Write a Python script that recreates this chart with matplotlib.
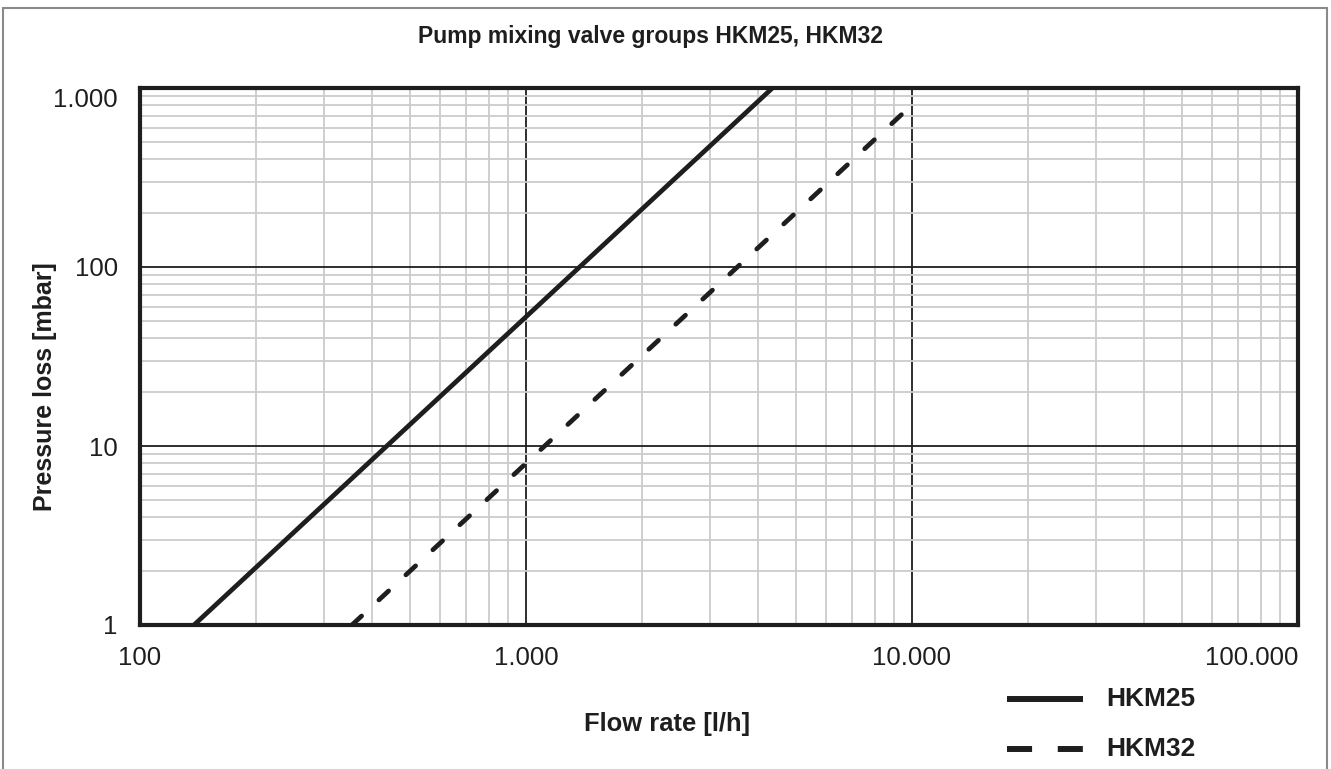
import matplotlib.pyplot as plt
from matplotlib.lines import Line2D
from matplotlib.patches import Rectangle
from matplotlib.ticker import LogLocator, NullFormatter

plt.rcParams['font.family'] = ['Liberation Sans', 'DejaVu Sans']

# values (flow l/h, pressure loss mbar)
hkm25_flow = [138, 4350]
hkm25_dp = [1, 1000]
hkm32_flow = [354, 10200]
hkm32_dp = [1, 838]

x_ticks = [100, 1000, 10000, 100000]
x_labels = ['100', '1.000', '10.000', '100.000']
y_ticks = [1, 10, 100, 1000]
y_labels = ['1', '10', '100', '1.000']
series_names = ['HKM25', 'HKM32']

W, H = 1331, 769
ink = '#1e1e1e'

fig = plt.figure(figsize=(W / 100, H / 100), dpi=100)
ax = fig.add_axes([140 / W, 1 - 625 / H, (1298 - 140) / W, (625 - 88) / H])

ax.plot(hkm25_flow, hkm25_dp, color=ink, lw=3.4, solid_capstyle='butt', zorder=5)
ax.plot(hkm32_flow, hkm32_dp, color=ink, lw=3.4, dashes=(2.8, 5.0),
        dash_capstyle='round', zorder=5)

ax.set_xscale('log')
ax.set_yscale('log')
ax.set_xlim(100, 100000)
ax.set_ylim(1, 1000)

ax.xaxis.set_minor_locator(LogLocator(base=10, subs=range(2, 10)))
ax.yaxis.set_minor_locator(LogLocator(base=10, subs=range(2, 10)))
ax.xaxis.set_minor_formatter(NullFormatter())
ax.yaxis.set_minor_formatter(NullFormatter())
ax.grid(which='minor', color='#cccccc', lw=1.3)
ax.grid(which='major', color=ink, lw=1.3)
ax.set_axisbelow(True)

ax.set_xticks(x_ticks)
ax.set_xticklabels(x_labels)
ax.set_yticks(y_ticks)
ax.set_yticklabels(y_labels)
ax.tick_params(which='both', length=0, labelsize=18.5, colors=ink)
ax.tick_params(axis='x', pad=15)
ax.tick_params(axis='y', pad=16)
ax.get_xticklabels()[-1].set_ha('right')
ax.get_yticklabels()[-1].set_va('top')

for s in ax.spines.values():
    s.set_linewidth(3)
    s.set_color(ink)

fig.text(650 / W, 1 - 36 / H, 'Pump mixing valve groups HKM25, HKM32',
         ha='center', va='center', fontsize=16.5, fontweight='bold', color=ink)
fig.text(45 / W, 1 - 387 / H, 'Pressure loss [mbar]', rotation=90,
         ha='center', va='center', fontsize=18, fontweight='bold', color=ink)
fig.text(667 / W, 1 - 724 / H, 'Flow rate [l/h]',
         ha='center', va='center', fontsize=18.4, fontweight='bold', color=ink)

# legend drawn by hand to match the sample lengths
legend_y = [699, 749]
legend_dash = [None, (4.2, 4.3)]
for name, y, d in zip(series_names, legend_y, legend_dash):
    ln = Line2D([1007 / W, 1083 / W], [1 - y / H, 1 - y / H],
                transform=fig.transFigure, color=ink, lw=4.3,
                solid_capstyle='butt', dash_capstyle='butt')
    if d is not None:
        ln.set_dashes(d)
    fig.add_artist(ln)
    fig.text(1106 / W, 1 - y / H, name, ha='left', va='center',
             fontsize=19, fontweight='bold', color=ink)

fig.patches.append(Rectangle((2.5 / W, -0.1), 1324 / W, 1.1 - 8 / H,
                             transform=fig.transFigure, fill=False,
                             edgecolor='#8a8a8a', lw=1.5))

fig.savefig('out.png', dpi=100)
